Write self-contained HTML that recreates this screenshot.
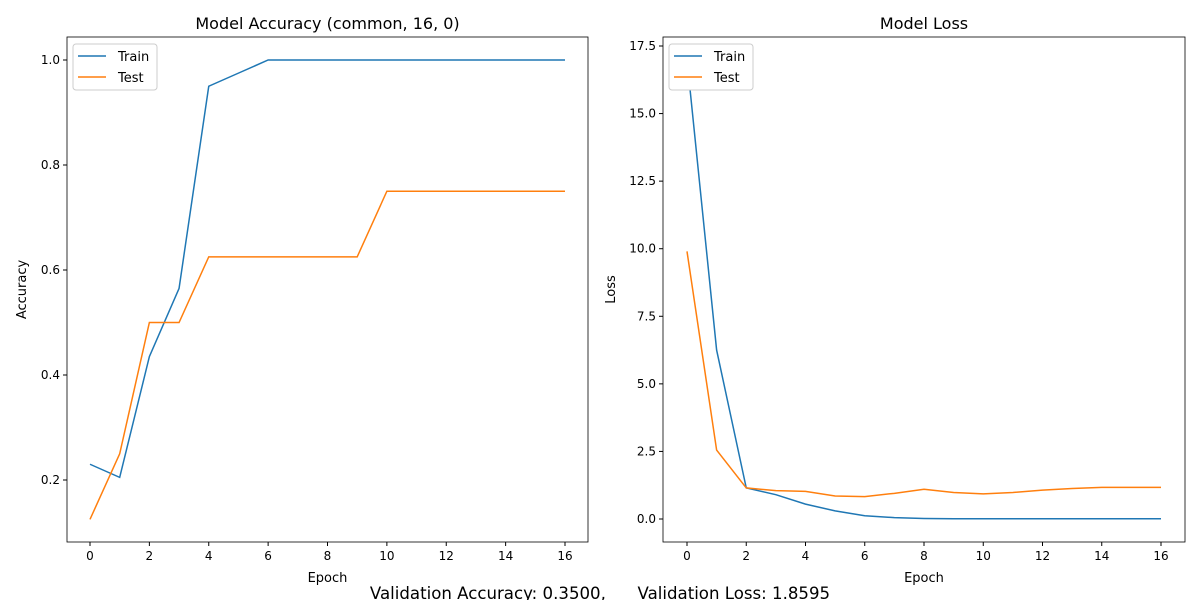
<!DOCTYPE html>
<html><head><meta charset="utf-8"><style>
body{margin:0;background:#fff;font-family:"Liberation Sans","DejaVu Sans",sans-serif;}
svg text{font-family:"DejaVu Sans","Liberation Sans",sans-serif;}
</style></head><body>
<svg id="c" width="1200" height="600" xmlns="http://www.w3.org/2000/svg"></svg>
<script>
const epochs=[0,1,2,3,4,5,6,7,8,9,10,11,12,13,14,15,16];
const accTrain=[0.23,0.205,0.435,0.565,0.95,0.975,1,1,1,1,1,1,1,1,1,1,1];
const accTest=[0.125,0.25,0.5,0.5,0.625,0.625,0.625,0.625,0.625,0.625,0.75,0.75,0.75,0.75,0.75,0.75,0.75];
const lossTrain=[17.0,6.25,1.15,0.9,0.55,0.3,0.12,0.05,0.02,0.01,0.01,0.01,0.01,0.01,0.01,0.01,0.01];
const lossTest=[9.9,2.55,1.15,1.05,1.02,0.85,0.83,0.95,1.1,0.98,0.93,0.98,1.07,1.13,1.17,1.17,1.17];
const xTicks=[0,2,4,6,8,10,12,14,16];
const accTicks=[0.2,0.4,0.6,0.8,1.0];
const lossTicks=[0,2.5,5,7.5,10,12.5,15,17.5];
const svg=document.getElementById('c');
const NS='http://www.w3.org/2000/svg';
function mk(tag,attrs,parent){const e=document.createElementNS(NS,tag);for(const k in attrs)e.setAttribute(k,attrs[k]);(parent||svg).appendChild(e);return e;}
function panel(o){
 const g=mk('g',{});
 
 
 const X=v=>o.x0+(v-0)*(o.x16-o.x0)/16;
 const Y=v=>o.yA+(v-o.vA)*(o.yB-o.yA)/(o.vB-o.vA);
 for(const t of xTicks){
  mk('line',{x1:X(t),x2:X(t),y1:o.bot,y2:o.bot+4,stroke:'#000'},g);
  const tx=mk('text',{x:X(t),y:o.bot+18,'text-anchor':'middle','font-size':12},g);tx.textContent=t;
 }
 for(const t of o.yTicks){
  mk('line',{x1:o.left-4,x2:o.left,y1:Y(t),y2:Y(t),stroke:'#000'},g);
  const tx=mk('text',{x:o.left-7,y:Y(t)+4,'text-anchor':'end','font-size':12},g);tx.textContent=o.fmt(t);
 }
 const series=[[o.train,'#1f77b4','train-line'],[o.test,'#ff7f0e','test-line']];
 for(const [d,c,n] of series){
  const p=mk('polyline',{points:d.map((v,i)=>X(epochs[i])+','+Y(v)).join(' '),fill:'none',stroke:c,'stroke-width':1.5},g);
  
  
 }
 mk('rect',{x:o.left,y:o.top,width:o.right-o.left,height:o.bot-o.top,fill:'none',stroke:'#000','stroke-width':0.8},g);
 const ti=mk('text',{x:(o.left+o.right)/2,y:29,'text-anchor':'middle','font-size':16},g);ti.textContent=o.title;
 
 const xl=mk('text',{x:(o.left+o.right)/2,y:582,'text-anchor':'middle','font-size':13},g);xl.textContent='Epoch';
 
 const yl=mk('text',{x:o.ylx,y:(o.top+o.bot)/2,'text-anchor':'middle','font-size':13,transform:`rotate(-90 ${o.ylx} ${(o.top+o.bot)/2})`},g);yl.textContent=o.ylabel;
 
 const lg=mk('g',{},g);
 
 const lx=o.left+6;
 mk('rect',{x:lx,y:44,width:84,height:46,fill:'#fff',stroke:'#ccc',rx:3},lg);
 [['Train','#1f77b4'],['Test','#ff7f0e']].forEach((e,i)=>{
  const yy=56+i*21;
  mk('line',{x1:lx+5,x2:lx+33,y1:yy,y2:yy,stroke:e[1],'stroke-width':1.5},lg);
  const t=mk('text',{x:lx+45,y:yy+5,'font-size':13},lg);t.textContent=e[0];
 });
}
panel({name:'accuracy-panel',left:67,right:588,top:37,bot:542,x0:90,x16:565,vA:1.0,yA:60,vB:0.2,yB:480,yTicks:accTicks,fmt:t=>t.toFixed(1),train:accTrain,test:accTest,title:'Model Accuracy (common, 16, 0)',ylabel:'Accuracy',ylx:26});
panel({name:'loss-panel',left:663,right:1185,top:37,bot:542,x0:687,x16:1161,vA:0,yA:519,vB:17.5,yB:46,yTicks:lossTicks,fmt:t=>t.toFixed(1),train:lossTrain,test:lossTest,title:'Model Loss',ylabel:'Loss',ylx:615});
const f=mk('text',{x:600,y:599,'text-anchor':'middle','font-size':16.6});
f.textContent='Validation Accuracy: 0.3500,      Validation Loss: 1.8595';
f.setAttribute('xml:space','preserve');f.style.whiteSpace='pre';


</script>
</body></html>
